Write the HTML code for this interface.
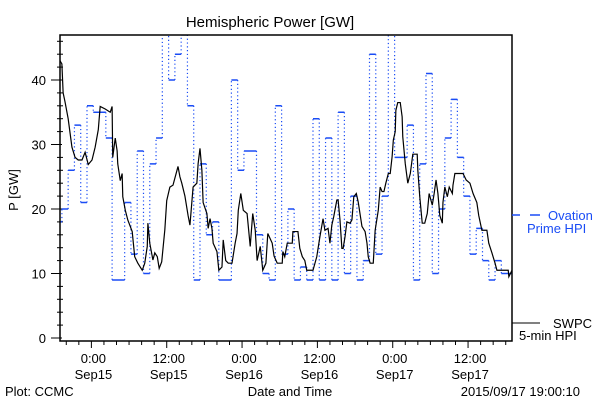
<!DOCTYPE html>
<html><head><meta charset="utf-8"><style>
body{margin:0;background:#fff}
svg{display:block;font-family:"Liberation Sans",sans-serif}
</style></head><body>
<svg id="chart" width="600" height="400" viewBox="0 0 600 400">
<defs><clipPath id="plotclip"><rect x="60" y="35" width="452" height="306"/></clipPath></defs>
<rect width="600" height="400" fill="#fff"/>
<text x="270" y="27" font-size="15" text-anchor="middle">Hemispheric Power [GW]</text>
<g id="axes"></g>
<g id="series" clip-path="url(#plotclip)"></g>
<rect x="60" y="35" width="452" height="306" fill="none" stroke="#000" stroke-width="1.5"/>
<text transform="translate(18,190) rotate(-90)" font-size="13" text-anchor="middle">P [GW]</text>
<text x="290" y="396" font-size="13" text-anchor="middle">Date and Time</text>
<text x="5" y="396" font-size="13">Plot: CCMC</text>
<text x="580" y="396" font-size="13" text-anchor="end">2015/09/17 19:00:10</text>
<g>
<line x1="512" y1="215" x2="520" y2="215" stroke="#1a4cf5" stroke-width="1.5"/>
<line x1="530" y1="215" x2="540" y2="215" stroke="#1a4cf5" stroke-width="1.5"/>
<text x="548" y="220" font-size="13" fill="#1a4cf5">Ovation</text>
<text x="527" y="233" font-size="13" fill="#1a4cf5">Prime HPI</text>
</g>
<g>
<line x1="512" y1="323" x2="540" y2="323" stroke="#000" stroke-width="1"/>
<text x="553" y="328" font-size="13">SWPC</text>
<text x="519" y="340" font-size="13">5-min HPI</text>
</g>
</svg>
<script>
// hours since 2015-09-14 19:00
const swpcTimes=[0,0.3,0.5,0.8,1.3,1.9,2.4,2.9,3.5,4.0,4.5,5.1,5.6,6.1,6.4,7.2,8.0,8.3,8.4,8.8,9.1,9.2,9.6,9.9,10.0,10.4,10.8,11.5,11.9,12.4,13.1,13.5,13.9,14.0,14.3,14.8,15.1,15.5,15.8,16.2,16.7,17.0,17.5,18.0,18.8,19.1,19.4,19.9,20.4,20.7,21.2,21.8,22.0,22.3,22.6,22.8,23.4,23.6,23.9,24.2,24.4,25.0,25.3,25.8,26.0,26.4,26.8,27.4,27.9,28.2,28.4,28.8,29.2,29.8,30.3,30.7,31.1,31.4,31.9,32.3,32.8,33.1,33.8,34.1,34.6,35.4,35.5,35.8,36.2,37.0,37.1,37.9,38.2,38.6,39.0,39.3,40.3,40.9,41.4,41.9,42.2,42.7,43.0,43.3,43.6,44.1,44.3,44.6,44.9,45.1,45.4,45.7,46.2,46.5,46.8,47.2,47.5,48.1,48.6,48.9,49.1,49.4,49.9,50.2,50.7,51.0,51.3,51.6,51.9,52.3,52.6,52.9,53.1,53.4,53.5,53.8,54.2,54.5,54.6,55.0,55.4,55.8,56.2,56.9,57.0,57.3,57.7,58.1,58.5,58.8,59.3,59.6,59.9,60.2,60.5,60.9,61.0,61.3,61.7,62.0,62.5,62.6,62.9,64.2,64.7,65.3,65.8,66.4,66.7,67.2,68.0,68.3,68.8,69.3,69.6,71.4,71.5,72];
const swpcValues=[43,42.5,38,36.6,34,29.6,28,27.6,27.6,28.8,26.9,27.6,29.6,32.3,35.9,35.5,35,35.9,28,31,29,27,24.4,25.5,21.9,19.8,18.3,16.5,12.6,11.6,10.5,11.6,14.2,17.8,14.7,12.1,13.2,12.6,10.8,11.8,16.8,21.3,23.4,23.7,26.6,25,24,22,19,17.5,23.4,24,27,29.4,26,21,19.3,17,18.5,17,14.7,13.4,10.5,11,15.2,12,11.6,11.6,14.7,16.2,19.8,22.4,19.8,19.3,14.2,19.3,16.7,12,14.2,10.5,11.6,16.2,14.7,12.7,11.6,11.6,13.4,12.6,14.7,14.7,16.5,16.5,13.9,12.6,12,10.5,10.5,12.6,15.7,18.5,16.7,17,14.7,17.5,18.8,21.4,21.4,18.3,13.9,13.9,15.7,18,17.8,18.3,21.9,22.4,21.1,17.3,16.5,14.7,12.6,11.6,11.6,16.7,19.8,23.4,22.7,22.7,24,25.5,25.5,28.1,30.7,32,35.3,36.5,36.5,34.3,31.2,27,24,25.5,28.5,28.5,26,22,17.8,17.8,19.3,22.4,20.6,22.4,24.5,22.4,19,17.8,21,23.4,21.9,23.4,22.4,23.7,25.5,25.5,24.5,24,22.4,21,19,16.7,16.7,14.7,13.2,11.6,10.5,10.5,9.5,10.5];
const ovationInitial=18;
const ovationStart=0.3;
const ovationValues=[20,26,33,21,36,35,35,31,9,9,21,13,29,10,27,31,48,40,44,47,36,9,27,16,18,9,9,40,26,29,29,16,10,9,36,13,20,9,11,9,34,9,31,9,35,10,22,9,12,44,13,22,48,28,28,33,9,27,41,10,20,31,37,28,22,13,17,12,9,12,10,10];
const yTicks=[0,10,20,30,40];
const xTickHours=[5,17,29,41,53,65];
const xTickTimes=["0:00","12:00","0:00","12:00","0:00","12:00"];
const xTickDates=["Sep15","Sep15","Sep16","Sep16","Sep17","Sep17"];

const NS="http://www.w3.org/2000/svg";
const X0=60,X1=512,T0=0,T1=72;
const Y0=338,PXV=6.45;
function xs(t){return X0+(t-T0)*(X1-X0)/(T1-T0);}
function ys(v){return Y0-v*PXV;}
function mk(tag,attrs,parent){const e=document.createElementNS(NS,tag);for(const k in attrs)e.setAttribute(k,attrs[k]);parent.appendChild(e);return e;}
const axes=document.getElementById('axes'),series=document.getElementById('series');

for(let v=0;v<=46;v+=2){
  const major=v%10===0;
  const t=mk('line',{x1:major?51:57,x2:major?62:63,y1:ys(v),y2:ys(v),stroke:'#000'},axes);
  
  
}
yTicks.forEach(v=>{
  const t=mk('text',{x:46,y:ys(v)+5,'font-size':13,'text-anchor':'end'},axes);
  t.textContent=String(v);
  
  
});
for(let h=1;h<72;h+=2){
  const major=xTickHours.includes(h);
  const t=mk('line',{x1:xs(h),x2:xs(h),y1:341,y2:major?348:345,stroke:'#000'},axes);
  
  
}
xTickHours.forEach((h,i)=>{
  const a=mk('text',{x:xs(h)+2,y:363,'font-size':13,'text-anchor':'middle'},axes);
  a.textContent=xTickTimes[i];
  
  
  const b=mk('text',{x:xs(h)+2,y:379,'font-size':13,'text-anchor':'middle'},axes);
  b.textContent=xTickDates[i];
  
  
});

let hd='M'+xs(0)+' '+ys(ovationInitial)+'H'+xs(ovationStart);
let vd='';
let prev=ovationInitial;
ovationValues.forEach((v,i)=>{
  const t=ovationStart+i;
  vd+='M'+xs(t)+' '+ys(prev)+'V'+ys(v);
  hd+='M'+xs(t)+' '+ys(v)+'H'+xs(t+1);
  prev=v;
});
const ov=mk('path',{d:vd,fill:'none',stroke:'#1a4cf5','stroke-width':1.2,'stroke-dasharray':'1.2,2.6'},series);


const oh=mk('path',{d:hd,fill:'none',stroke:'#1a4cf5','stroke-width':1.5},series);



let sd='M'+xs(swpcTimes[0])+' '+ys(swpcValues[0]);
for(let i=1;i<swpcTimes.length;i++){sd+='L'+xs(swpcTimes[i])+' '+ys(swpcValues[i]);}
const sw=mk('path',{d:sd,fill:'none',stroke:'#000','stroke-width':1.2},series);


</script>
</body></html>
